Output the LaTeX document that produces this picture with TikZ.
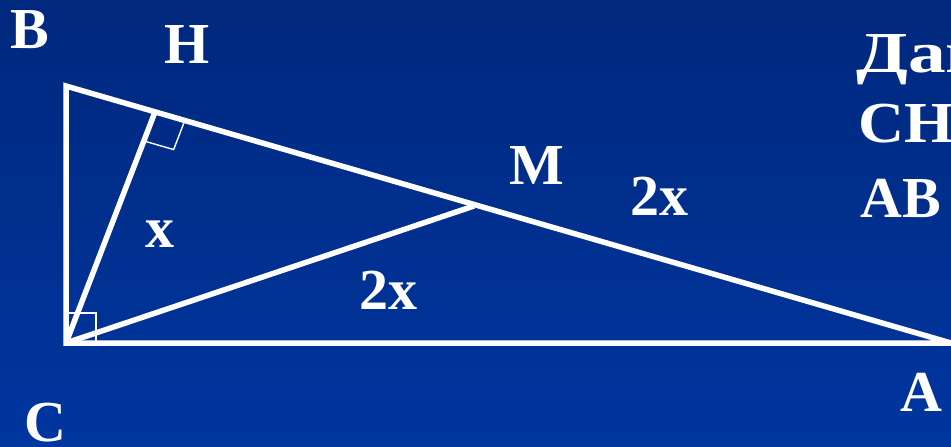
\documentclass[tikz,border=0pt]{standalone}
\usepackage{fontspec}
\setmainfont{Liberation Serif}
\usetikzlibrary{calc}

\begin{document}
\begin{tikzpicture}[x=1pt,y=-1pt,
    side/.style={white,line width=5.5pt,line join=miter},
    rightmark/.style={white,line width=1.4pt},
    lbl/.style={text=white,font=\fontsize{58}{60}\selectfont\bfseries,inner sep=0pt}]
  \useasboundingbox (0,0) rectangle (951,447);
  \shade[top color={rgb,255:red,0;green,40;blue,125},bottom color={rgb,255:red,0;green,54;blue,160}]
    (0,0) rectangle (951,447);
  % vertices
  \coordinate (B) at (66,86);
  \coordinate (C) at (66,343);
  \coordinate (A) at (951,343);
  \coordinate (H) at (155,112);
  \coordinate (M) at (474,206);
  % right angle marks
  \coordinate (h1) at ($(H)!31pt!(A)$);
  \coordinate (h2) at ($(H)!31pt!(C)$);
  \draw[rightmark] (h1) -- ($(h1)+(h2)-(H)$) -- (h2);
  \draw[rightmark] (C) rectangle ++(30,-30);
  % sides
  \draw[side] (B) -- (C) -- (A) -- cycle;
  \draw[side] (C) -- (H);
  \draw[side] (C) -- (M);
  % labels
  \node[lbl] (lB) at (30,30) {B};
  \node[lbl] (lH) at (187,45) {H};
  \node[lbl] (lM) at (537,166) {M};
  \node[lbl] (lA) at (921,392) {A};
  \node[lbl] (lC) at (45,423) {C};
  \node[lbl] (lx) at (160,234) {x};
  \node[lbl] (l2xa) at (659,196) {2x};
  \node[lbl] (l2xb) at (388,290) {2x};
  \node[lbl,anchor=base west] (given) at (856,72) {\scalebox{1.3}[1]{Дано}};
  \node[lbl,anchor=base west] (gCH) at (858,142) {\scalebox{1.1}[1]{CH}};
  \node[lbl,anchor=base west] (gAB) at (860,217) {AB};
\end{tikzpicture}
\end{document}
